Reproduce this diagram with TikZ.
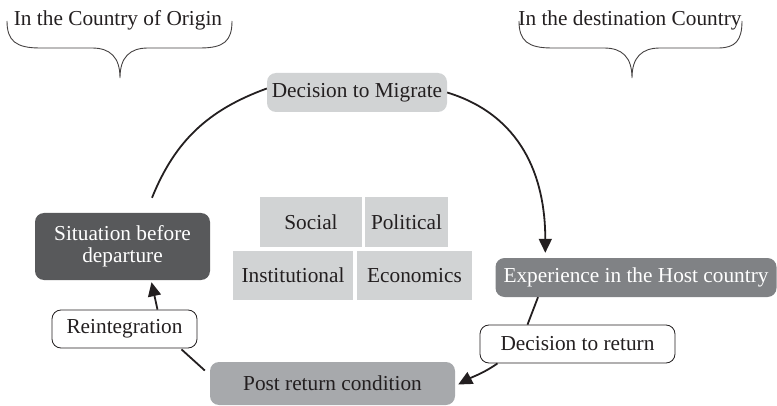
\documentclass[tikz,border=0pt]{standalone}
\usepackage{fontspec}
\setmainfont{Liberation Serif}
\usetikzlibrary{arrows.meta}
\definecolor{lightg}{HTML}{D1D3D4}
\definecolor{darkg}{HTML}{58595B}
\definecolor{midg}{HTML}{808285}
\definecolor{postg}{HTML}{A7A9AC}
\definecolor{ink}{HTML}{231F20}
\tikzset{
  base/.style={rectangle, inner sep=0pt, align=center, text=ink},
  roundbox/.style={base, rounded corners=9pt},
  factor/.style={base, fill=lightg},
  labelbox/.style={roundbox, fill=white, draw=ink, line width=0.8pt},
  conn/.style={draw=ink, line width=1.8pt},
  arr/.style={conn, -{Triangle[length=14pt,width=13pt]}},
  bracepath/.style={draw=ink!85, line width=0.9pt},
}
\begin{document}
\begin{tikzpicture}[x=1pt,y=1pt,font=\fontsize{21.3}{23.5}\selectfont]
\useasboundingbox (0,0) rectangle (777,405);

% braces and their labels
\node[base] (origin) at (118,385) {In the Country of Origin};
\node[base] (dest) at (630,385) {In the destination Country};
\draw[bracepath] (7,384) .. controls (7,364) and (16,357) .. (40,357) -- (92,357)
  .. controls (110,357) and (120,348) .. (120,327)
  .. controls (120,348) and (130,357) .. (148,357) -- (200,357)
  .. controls (224,357) and (232,364) .. (232,384);
\draw[bracepath] (519,384) .. controls (519,364) and (528,357) .. (552,357) -- (604,357)
  .. controls (622,357) and (632,348) .. (632,327)
  .. controls (632,348) and (642,357) .. (660,357) -- (718,357)
  .. controls (735,357) and (742,364) .. (742,384);

% main nodes
\node[roundbox, fill=lightg, minimum width=180pt, minimum height=39pt] (mig) at (357,312.5) {Decision to Migrate};
\node[roundbox, fill=darkg, text=white, minimum width=175pt, minimum height=67pt] (sit) at (122.5,158.5) {Situation before\\[-1pt]departure};
\node[labelbox, minimum width=145pt, minimum height=38pt] (reint) at (124.5,76) {Reintegration};
\node[roundbox, fill=postg, minimum width=245pt, minimum height=43pt] (post) at (332.5,21.5) {Post return condition};
\node[roundbox, fill=midg, text=white, minimum width=281pt, minimum height=39pt] (exp) at (636,127.5) {Experience in the Host country};
\node[labelbox, minimum width=195pt, minimum height=38pt] (ret) at (577.5,61) {Decision to return};

% factors
\node[factor, minimum width=102pt, minimum height=50pt] (social) at (311,183) {Social};
\node[factor, minimum width=83pt, minimum height=50pt] (political) at (406.5,183) {Political};
\node[factor, minimum width=120pt, minimum height=49pt] (inst) at (293,129.5) {Institutional};
\node[factor, minimum width=115pt, minimum height=49pt] (econ) at (414.5,129.5) {Economics};

% connectors
\draw[conn] ([shift={(29.5,15)}]sit.north) to[out=68,in=200] ([yshift=4]mig.west);
\draw[arr] ([yshift=0]mig.east) to[out=-17,in=90,looseness=1.05] ([shift={(50,5)}]exp.north west);
\draw[conn] ([xshift=-98]exp.south) -- ([xshift=-50]ret.north);
\draw[arr] ([xshift=-80]ret.south) to[out=215,in=28] ([xshift=3,yshift=-1]post.east);
\draw[conn] ([shift={(-5,13)}]post.west) -- ([shift={(57,-1)}]reint.south);
\draw[arr] ([xshift=33]reint.north) -- ([shift={(29,-2)}]sit.south);
\end{tikzpicture}
\end{document}
